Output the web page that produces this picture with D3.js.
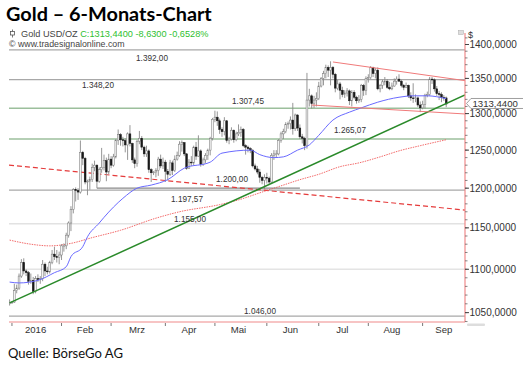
<!DOCTYPE html>
<html><head><meta charset="utf-8">
<script src="https://cdn.jsdelivr.net/npm/d3@7"></script>
<style>html,body{margin:0;padding:0;background:#fff;}svg{display:block;}</style>
</head><body>
<svg id="c" width="523" height="368"></svg>
<script>
// ---------- data ----------
const titleText = "Gold \u2013 6-Monats-Chart";
const symbolText = "Gold USD/OZ";
const quoteText = "C:1313,4400 -8,6300 -0,6528%";
const copyrightText = "\u00a9 www.tradesignalonline.com";
const sourceText = "Quelle: B\u00f6rseGo AG";
const lastClose = 1313.44;

const monthLabels   = ["2016","Feb","Mrz","Apr","Mai","Jun","Jul","Aug","Sep"];
const monthStartIdx = [1, 22, 43, 66, 87, 109, 131, 152, 175];
const monthLabelIdx = [11, 32, 54, 76, 97, 119, 141, 162, 184];

const yTickValues = [1400,1350,1300,1250,1200,1150,1100,1050];
const yMinorValues = d3.range(1040, 1411, 10);

// daily candles [open, high, low, close], 31.12.2015 .. 15.09.2016
const priceRows = [
[1060,1065,1058,1061],[1061,1063,1060,1062],[1062,1083,1061,1075],[1075,1082,1072,1078],[1078,1095,1076,1092],
[1092,1112,1090,1108],[1108,1113,1094,1098],[1098,1100,1092,1096],[1096,1098,1082,1086],[1086,1095,1083,1087],
[1087,1091,1071,1074],[1074,1092,1072,1089],[1089,1094,1085,1088],[1088,1092,1083,1089],[1089,1111,1086,1106],
[1106,1108,1092,1098],[1098,1103,1094,1097],[1097,1110,1095,1108],[1108,1123,1106,1118],[1118,1127,1111,1115],
[1115,1123,1108,1114],[1114,1121,1106,1117],[1117,1130,1111,1128],[1128,1131,1121,1128],[1128,1144,1124,1141],
[1141,1158,1138,1156],[1156,1177,1146,1173],[1173,1200,1168,1198],[1198,1201,1183,1197],[1197,1200,1185,1195],
[1195,1263,1193,1247],[1247,1249,1230,1239],[1239,1241,1205,1208],[1208,1211,1191,1209],[1209,1215,1198,1211],
[1211,1232,1208,1227],[1227,1236,1222,1230],[1230,1231,1200,1209],[1209,1227,1207,1224],[1224,1253,1220,1227],
[1227,1244,1223,1236],[1236,1240,1209,1221],[1221,1245,1218,1238],[1238,1242,1226,1230],[1230,1245,1228,1241],
[1241,1265,1239,1263],[1263,1278,1257,1271],[1271,1273,1256,1264],[1264,1268,1255,1263],[1263,1266,1247,1257],
[1257,1274,1237,1272],[1272,1284,1255,1259],[1259,1260,1233,1237],[1237,1240,1226,1232],[1232,1264,1228,1262],
[1262,1276,1258,1266],[1266,1269,1250,1254],[1254,1256,1241,1245],[1245,1256,1241,1249],[1249,1251,1220,1224],
[1224,1226,1208,1220],[1220,1222,1217,1221],[1221,1226,1214,1223],[1223,1241,1216,1238],[1238,1244,1226,1229],
[1229,1240,1225,1234],[1234,1237,1208,1222],[1222,1225,1210,1218],[1218,1237,1216,1233],[1233,1236,1217,1223],
[1223,1243,1221,1238],[1238,1248,1236,1243],[1243,1262,1241,1258],[1258,1263,1248,1260],[1260,1261,1242,1245],
[1245,1246,1224,1226],[1226,1238,1225,1234],[1234,1242,1229,1233],[1233,1256,1230,1254],[1254,1261,1237,1242],
[1242,1270,1241,1249],[1249,1251,1228,1231],[1231,1240,1229,1237],[1237,1246,1233,1243],[1243,1252,1237,1250],
[1250,1268,1243,1266],[1266,1294,1263,1292],[1292,1304,1288,1295],[1295,1303,1283,1290],[1290,1293,1272,1278],
[1278,1281,1268,1275],[1275,1295,1270,1290],[1290,1291,1260,1263],[1263,1268,1258,1265],[1265,1281,1263,1277],
[1277,1278,1260,1264],[1264,1275,1262,1272],[1272,1285,1269,1274],[1274,1282,1268,1278],[1278,1280,1254,1256],
[1256,1258,1244,1254],[1254,1256,1247,1252],[1252,1254,1246,1250],[1250,1251,1227,1229],[1229,1232,1223,1225],
[1225,1229,1218,1221],[1221,1225,1207,1214],[1214,1216,1205,1210],[1210,1218,1199,1214],[1214,1220,1206,1213],
[1213,1215,1204,1208],[1208,1246,1207,1243],[1243,1250,1237,1245],[1245,1250,1240,1245],[1245,1265,1243,1263],
[1263,1275,1260,1272],[1272,1279,1265,1275],[1275,1288,1273,1285],[1285,1289,1279,1286],[1286,1296,1278,1291],
[1291,1315,1271,1279],[1279,1300,1276,1298],[1298,1299,1276,1280],[1280,1285,1265,1268],[1268,1272,1259,1266],
[1266,1268,1250,1256],[1256,1358,1252,1319],[1319,1335,1310,1325],[1325,1327,1307,1314],[1314,1325,1308,1319],
[1319,1330,1310,1321],[1321,1345,1319,1339],[1339,1352,1337,1350],[1350,1361,1340,1357],[1357,1370,1350,1366],
[1366,1369,1352,1362],[1362,1375,1340,1366],[1366,1368,1350,1356],[1356,1358,1330,1336],[1336,1348,1333,1342],
[1342,1345,1320,1333],[1333,1338,1323,1327],[1327,1333,1322,1329],[1329,1336,1324,1332],[1332,1334,1312,1318],
[1318,1333,1310,1330],[1330,1333,1320,1323],[1323,1325,1314,1318],[1318,1326,1315,1320],[1320,1342,1316,1340],
[1340,1342,1325,1333],[1333,1353,1326,1350],[1350,1356,1344,1351],[1351,1368,1349,1366],[1366,1367,1352,1357],
[1357,1365,1350,1362],[1362,1366,1333,1335],[1335,1342,1330,1340],[1340,1348,1335,1345],[1345,1352,1340,1346],
[1346,1349,1335,1337],[1337,1345,1333,1335],[1335,1344,1333,1339],[1339,1350,1338,1346],[1346,1353,1341,1349],
[1349,1356,1345,1346],[1346,1348,1337,1340],[1340,1342,1333,1337],[1337,1344,1336,1340],[1340,1341,1322,1325],
[1325,1330,1318,1322],[1322,1343,1315,1321],[1321,1327,1316,1322],[1322,1324,1309,1312],[1312,1317,1302,1308],
[1308,1318,1306,1313],[1313,1328,1307,1326],[1326,1331,1323,1327],[1327,1352,1325,1349],[1349,1352,1342,1348],
[1348,1350,1331,1335],[1335,1339,1325,1328],[1328,1332,1319,1327],[1327,1330,1316,1323],[1323,1326,1318,1322],
[1322,1324,1309,1313.44]
];

// moving averages (index, value)
const ma50Idx = [0,4,12,19,24,26,31,33,38,40,48,54,60,67,74,85,90,102,106,112,116,122,127,131,137,144,149,156,165,171,177,185];
const ma50Val = [1085,1084,1087,1096,1103,1115,1127,1139,1156,1163,1187,1200,1204,1211,1226,1234,1246,1250,1244,1240,1241,1250,1257,1270,1291,1302,1308,1316,1323,1325,1325,1321];
const ma200Idx = [0,9,17,26,35,47,62,72,89,97,106,115,123,131,140,148,157,165,174,185];
const ma200Val = [1135,1130,1128,1131,1138,1147,1162,1170,1179,1185,1194,1203,1211,1218,1228,1233,1241,1249,1256,1264];

// trend lines (two anchor points each: index, value)
const greenTrendIdx = [0,185],   greenTrendVal = [1061,1314];
const redDashIdx = [0,185],      redDashVal = [1230,1174.5];
const upperChanIdx = [137,185],  upperChanVal = [1374,1350.6];
const lowerChanIdx = [128,185],  lowerChanVal = [1312,1301];

// horizontal levels
const levelValues = [1392.00, 1348.20, 1307.45, 1265.07, 1200.00, 1197.57, 1155.00, 1046.00];
const levelStyles = ["gray","gray","green","green","dark","gray","light","gray"];
const levelStartIdx = [null,null,null,null,37,null,null,null];
const levelEndIdx   = [null,null,null,null,123,null,null,null];
const extraGridValues = [1100];
// label layout (x centre, vertical offset of baseline from line)
const levelLabelX  = [152, 98, 248, 350, 232, 187, 190, 260];
const levelLabelDy = [11, 8.5, -4, -5.5, -6, 12, -1.5, -2];

// ---------- drawing ----------
const svg = d3.select("#c");
const L = 9, R = 465, T = 33, B = 322;
const x = d3.scaleLinear().domain([0,185]).range([9.6, 446.2]);
const y = d3.scaleLog().domain([1039.5, 1417.4]).range([B, T]);
const deLocale = d3.formatLocale({decimal:",", thousands:".", grouping:[3], currency:["","$"]});
const fmtLevel = deLocale.format(",.2f");
const fmtAxis = v => d3.format(".4f")(v).replace(".", ",");

svg.append("defs").append("clipPath").attr("id","plot")
  .append("rect").attr("x",L).attr("y",T).attr("width",R-L).attr("height",B-T);

function fitText(sel, target){
  const n = sel.node(); const fs = parseFloat(sel.attr("font-size"));
  const w = n.getComputedTextLength();
  if (w>0) sel.attr("font-size", (fs*target/w).toFixed(2));
}

// header
const title = svg.append("text").attr("x",6).attr("y",21).attr("font-family","Lato, 'Open Sans', sans-serif")
  .attr("font-weight","bold").attr("font-size",19).attr("fill","#000").text(titleText);
fitText(title, 206);

const icon = svg.append("g").attr("stroke","#555").attr("stroke-width",0.8).attr("fill","#fff");
icon.append("line").attr("x1",12.5).attr("x2",12.5).attr("y1",29.5).attr("y2",37.5);
icon.append("rect").attr("x",10.5).attr("y",31.5).attr("width",4).attr("height",3.5);

const l2 = svg.append("text").attr("x",21).attr("y",37).attr("font-family","'Liberation Sans', Arial, sans-serif")
  .attr("font-size",9.2);
l2.append("tspan").attr("fill","#444").text(symbolText + " ");
l2.append("tspan").attr("fill","#2fbf2f").text(quoteText);
svg.append("text").attr("x",9).attr("y",46.5).attr("font-family","'Liberation Sans', Arial, sans-serif")
  .attr("font-size",8.8).attr("fill","#444").text(copyrightText);

const plot = svg.append("g").attr("clip-path","url(#plot)");

// light gridlines
plot.selectAll("line.xg").data(extraGridValues).join("line")
  .attr("x1",L).attr("x2",R).attr("y1",d=>y(d)).attr("y2",d=>y(d))
  .attr("stroke","#e4e4e4").attr("stroke-width",1.6);

// level lines
const styleMap = {
  gray:{c:"#a8a8a8",w:1.3}, green:{c:"#9cbf9c",w:1.6}, dark:{c:"#8a8a8a",w:1.3}, light:{c:"#e2e2e2",w:1.6}
};
levelValues.forEach((v,k)=>{
  const s = styleMap[levelStyles[k]];
  const x1 = levelStartIdx[k]==null ? L : x(levelStartIdx[k]);
  const x2 = levelEndIdx[k]==null ? R : x(levelEndIdx[k]);
  plot.append("line").attr("x1",x1).attr("x2",x2).attr("y1",y(v)).attr("y2",y(v))
    .attr("stroke",s.c).attr("stroke-width",s.w);
});

// helper for trend lines
function trend(idx, val, extendLeft){
  const x1 = x(idx[0]), y1 = y(val[0]), x2 = x(idx[1]), y2 = y(val[1]);
  const m = (y2-y1)/(x2-x1);
  const xs = extendLeft ? L : x1;
  return [[xs, y1 + m*(xs-x1)], [R, y1 + m*(R-x1)]];
}

// red dashed long line
plot.append("path").attr("d", d3.line()(trend(redDashIdx, redDashVal, true)))
  .attr("stroke","#e53b3b").attr("stroke-width",1.2).attr("stroke-dasharray","5,3").attr("fill","none");

// MA 200 (red dotted)
plot.append("path").datum(ma200Idx.map((d,k)=>[x(d), y(ma200Val[k])]))
  .attr("d", d3.line().curve(d3.curveMonotoneX))
  .attr("stroke","#f05050").attr("stroke-width",1).attr("stroke-dasharray","1.5,1")
  .attr("fill","none").attr("opacity",0.85);

// candles
const bw = 1.8;
const cg = plot.append("g");
cg.selectAll("line.w").data(priceRows).join("line")
  .attr("x1",(d,i)=>x(i)).attr("x2",(d,i)=>x(i))
  .attr("y1",d=>y(d[1])).attr("y2",d=>y(d[2]))
  .attr("stroke","#8a8a8a").attr("stroke-width",0.9);
cg.selectAll("rect.b").data(priceRows).join("rect")
  .attr("x",(d,i)=>x(i)-bw/2).attr("width",bw)
  .attr("y",d=>y(Math.max(d[0],d[3])))
  .attr("height",d=>Math.max(0.8, Math.abs(y(d[0])-y(d[3]))))
  .attr("fill",d=>d[3]>=d[0] ? "#f4f4f4" : "#1a1a1a")
  .attr("stroke",d=>d[3]>=d[0] ? "#777" : "#1a1a1a").attr("stroke-width",0.5);

// MA 50 (blue)
plot.append("path").datum(ma50Idx.map((d,k)=>[x(d), y(ma50Val[k])]))
  .attr("d", d3.line().curve(d3.curveMonotoneX))
  .attr("stroke","#6a6aff").attr("stroke-width",1).attr("fill","none");

// green trend line
plot.append("path").attr("d", d3.line()(trend(greenTrendIdx, greenTrendVal, false)))
  .attr("stroke","#2a8a2a").attr("stroke-width",1.5).attr("fill","none");

// channel lines
[[upperChanIdx,upperChanVal],[lowerChanIdx,lowerChanVal]].forEach(([i,v])=>{
  plot.append("path").attr("d", d3.line()(trend(i, v, false)))
    .attr("stroke","#f07a7a").attr("stroke-width",1).attr("fill","none");
});

// level labels
levelValues.forEach((v,k)=>{
  svg.append("text").attr("x",levelLabelX[k]).attr("y",y(v)+levelLabelDy[k])
    .attr("text-anchor","middle").attr("font-family","'Liberation Sans', Arial, sans-serif")
    .attr("font-size",8.2).attr("fill","#333").text(fmtLevel(v));
});

// axes frame
svg.append("line").attr("x1",R).attr("x2",R).attr("y1",T).attr("y2",B).attr("stroke","#f08a8a").attr("stroke-width",1.2);
svg.append("line").attr("x1",L).attr("x2",R).attr("y1",B).attr("y2",B).attr("stroke","#f08a8a").attr("stroke-width",1.2);

// right axis ticks
svg.selectAll("line.ymin").data(yMinorValues).join("line")
  .attr("x1",R).attr("x2",R+2.5).attr("y1",d=>y(d)).attr("y2",d=>y(d))
  .attr("stroke","#666").attr("stroke-width",0.8);
svg.selectAll("line.ymaj").data(yTickValues).join("line")
  .attr("x1",R).attr("x2",R+4).attr("y1",d=>y(d)).attr("y2",d=>y(d))
  .attr("stroke","#444").attr("stroke-width",1);
svg.selectAll("text.yl").data(yTickValues).join("text")
  .attr("x",R+4.5).attr("y",d=>y(d)+3.6)
  .attr("font-family","'Liberation Sans', Arial, sans-serif").attr("font-size",10)
  .attr("fill","#333").text(fmtAxis);

// "$" and small icons
svg.append("text").attr("x",468).attr("y",38).attr("font-family","'Liberation Sans', Arial, sans-serif")
  .attr("font-size",9).attr("fill","#333").text("$");
svg.append("rect").attr("x",458.5).attr("y",30.5).attr("width",5).attr("height",4).attr("fill","#ddd").attr("stroke","#aaa").attr("stroke-width",0.5);
svg.append("rect").attr("x",467).attr("y",323.5).attr("width",18).attr("height",2.5).attr("rx",1).attr("fill","#ddd");

// last price box
const yc = y(lastClose) - 0.5;
svg.append("path").attr("d",`M466.5,${yc} L471,${yc-5} L524,${yc-5} L524,${yc+5} L471,${yc+5} Z`)
  .attr("fill","#fff").attr("stroke","#888").attr("stroke-width",0.8);
svg.append("text").attr("x",472.5).attr("y",yc+3.4).attr("font-family","'Liberation Sans', Arial, sans-serif")
  .attr("font-size",9.6).attr("fill","#333").text(fmtAxis(lastClose));

// x axis
svg.selectAll("line.xt").data(monthStartIdx).join("line")
  .attr("x1",d=>x(d)).attr("x2",d=>x(d)).attr("y1",B+1).attr("y2",B+4)
  .attr("stroke","#555").attr("stroke-width",0.8);
svg.selectAll("text.xl").data(monthLabels).join("text")
  .attr("x",(d,k)=>x(monthLabelIdx[k])).attr("y",B+10.5).attr("text-anchor","middle")
  .attr("font-family","'Liberation Sans', Arial, sans-serif").attr("font-size",9.6)
  .attr("fill","#333").text(d=>d);

// footer
const src = svg.append("text").attr("x",8).attr("y",358).attr("font-family","Lato, 'Open Sans', sans-serif")
  .attr("font-size",14).attr("fill","#111").text(sourceText);
fitText(src, 115);
</script>
</body></html>
